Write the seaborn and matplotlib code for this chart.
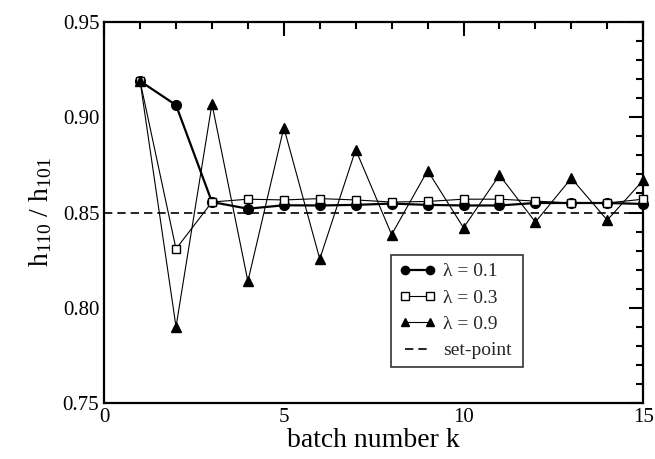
import numpy as np
import pandas as pd
import matplotlib
matplotlib.use("Agg")
import matplotlib.pyplot as plt
import seaborn as sns
from matplotlib.ticker import MultipleLocator

k = list(range(1, 16))
lam01 = [0.919, 0.9064, 0.8555, 0.852, 0.8538, 0.8537, 0.854, 0.8547, 0.854, 0.8537, 0.8537, 0.855, 0.855, 0.855, 0.8545]
lam03 = [0.919, 0.8309, 0.8555, 0.857, 0.8566, 0.8573, 0.8566, 0.8555, 0.8558, 0.857, 0.857, 0.856, 0.855, 0.855, 0.857]
lam09 = [0.919, 0.790, 0.907, 0.8139, 0.8946, 0.8256, 0.883, 0.8384, 0.872, 0.842, 0.8696, 0.845, 0.868, 0.846, 0.867]
setpoint = 0.85
labels = ["λ = 0.1", "λ = 0.3", "λ = 0.9"]

sns.set_theme(style="white")
plt.rcParams['font.family'] = ['Liberation Serif', 'DejaVu Serif']
plt.rcParams['mathtext.fontset'] = 'custom'
plt.rcParams['mathtext.rm'] = 'Liberation Serif'
plt.rcParams['mathtext.it'] = 'Liberation Serif:italic'

fig = plt.figure(figsize=(6.55, 4.59), dpi=100)
ax = fig.add_axes([0.159, 0.122, 0.823, 0.830])

df = pd.DataFrame({"k": k * 3,
                   "h": lam01 + lam03 + lam09,
                   "series": [labels[0]] * 15 + [labels[1]] * 15 + [labels[2]] * 15})

styles = [
    dict(marker="o", markersize=7, lw=1.6, mfc="black"),
    dict(marker="s", markersize=6, lw=0.8, mfc="white"),
    dict(marker="^", markersize=7, lw=0.8, mfc="black"),
]
for lab, st in zip(labels, styles):
    sub = df[df["series"] == lab]
    sns.lineplot(data=sub, x="k", y="h", ax=ax, color="black", marker=st["marker"],
                 markersize=st["markersize"], linewidth=st["lw"],
                 markerfacecolor=st["mfc"], markeredgecolor="black", markeredgewidth=1.0,
                 label=lab, clip_on=False, zorder=3)
ax.axhline(setpoint, color="black", lw=1.2, ls=(0, (5, 3)), label="set-point", zorder=2)

ax.set_xlim(0, 15)
ax.set_ylim(0.75, 0.95)
ax.xaxis.set_major_locator(MultipleLocator(5))
ax.xaxis.set_minor_locator(MultipleLocator(1))
ax.yaxis.set_major_locator(MultipleLocator(0.05))
ax.yaxis.set_minor_locator(MultipleLocator(0.01))
ax.yaxis.set_major_formatter(matplotlib.ticker.FormatStrFormatter('%.2f'))
ax.tick_params(which="both", direction="in", top=True, right=True, colors="black", width=1.5)
ax.tick_params(which="major", length=10, labelsize=15)
ax.tick_params(which="minor", length=5)
for s in ax.spines.values():
    s.set_color("black")
    s.set_linewidth(1.6)

ax.set_xlabel("batch number k", fontsize=20, color="black", labelpad=1)
ax.set_ylabel(r"h$_{\mathrm{110}}$ / h$_{\mathrm{101}}$", fontsize=20, color="black", labelpad=6)

leg = ax.legend(loc="lower left", bbox_to_anchor=(0.532, 0.094, 0.245, 0.306), mode="expand",
                borderaxespad=0, numpoints=2, markerscale=0.85,
                fontsize=14, frameon=True, fancybox=False, edgecolor="black",
                handlelength=1.9, borderpad=0.4, labelspacing=0.45, handletextpad=0.4)
leg.get_frame().set_linewidth(1.2)

fig.savefig("out.png", dpi=100)
